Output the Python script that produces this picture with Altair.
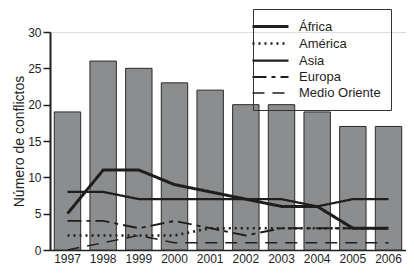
import altair as alt
import pandas as pd

years = ["1997", "1998", "1999", "2000", "2001", "2002", "2003", "2004", "2005", "2006"]
total = [19, 26, 25, 23, 22, 20, 20, 19, 17, 17]
africa = [5, 11, 11, 9, 8, 7, 6, 6, 3, 3]
america = [2, 2, 2, 2, 3, 3, 3, 3, 3, 3]
asia = [8, 8, 7, 7, 7, 7, 7, 6, 7, 7]
europa = [4, 4, 3, 4, 3, 2, 3, 3, 3, 3]
medio = [0, 1, 2, 1, 1, 1, 1, 1, 1, 1]
regions = ["África", "América", "Asia", "Europa", "Medio Oriente"]
y_ticks = [0, 5, 10, 15, 20, 25, 30]

bars_df = pd.DataFrame({"year": years, "total": total})
rows = []
for name, vals in zip(regions, [africa, america, asia, europa, medio]):
    for yr, v in zip(years, vals):
        rows.append({"year": yr, "region": name, "value": v})
lines_df = pd.DataFrame(rows)

FONT = "Liberation Sans"
INK = "#1e1e1e"

x_axis = alt.Axis(title=None, labelAngle=0, ticks=False, domainColor=INK,
                  domainWidth=1.5, labelPadding=3, labelFontSize=12,
                  labelFont=FONT, labelColor=INK)
x_scale = alt.Scale(paddingInner=0.26, paddingOuter=0.12)
y_scale = alt.Scale(domain=[0, 30], nice=False)
y_axis = alt.Axis(
    title="Número de conflictos", values=y_ticks, grid=False, labelOverlap=False,
    tickSize=7, tickColor=INK, tickWidth=1.5, domainColor=INK, domainWidth=2,
    labelFontSize=12, labelFont=FONT, labelColor=INK, labelPadding=2,
    titleFont=FONT, titleFontSize=14, titleFontWeight="normal", titleColor=INK,
    titlePadding=1,
)

bars = alt.Chart(bars_df).mark_bar(color="#8b8d8f", stroke="#2a2a2a", strokeWidth=1).encode(
    x=alt.X("year:N", sort=years, scale=x_scale, axis=x_axis),
    y=alt.Y("total:Q", scale=y_scale, axis=y_axis),
)

legend = alt.Legend(
    title=None, orient="none", legendX=203, legendY=-23,
    symbolType="M-3,0H3", symbolSize=144, symbolStrokeColor=INK,
    labelFont=FONT, labelFontSize=13, labelColor=INK,
    strokeColor="#333333", padding=10, rowPadding=2, labelOffset=21,
)

lines = alt.Chart(lines_df).mark_line(color=INK).encode(
    x=alt.X("year:N", sort=years, scale=x_scale, axis=x_axis),
    y=alt.Y("value:Q", scale=y_scale, axis=y_axis),
    detail="region:N",
    strokeDash=alt.StrokeDash(
        "region:N",
        scale=alt.Scale(domain=regions,
                        range=[[1, 0], [2, 4], [1, 0], [14, 5, 4, 5], [12, 8]]),
        legend=legend,
    ),
    strokeWidth=alt.StrokeWidth(
        "region:N",
        scale=alt.Scale(domain=regions, range=[3, 1.5, 1, 2, 2]),
        legend=legend,
    ),
)

chart = alt.layer(bars, lines).properties(
    width=356, height=218,
    autosize=alt.AutoSizeParams(type="none"),
    padding={"left": 42, "top": 24, "right": 0, "bottom": 14},
).configure_view(stroke=None).configure(background="white")

chart.save("out.html", embed_options={"renderer": "svg", "actions": False})
